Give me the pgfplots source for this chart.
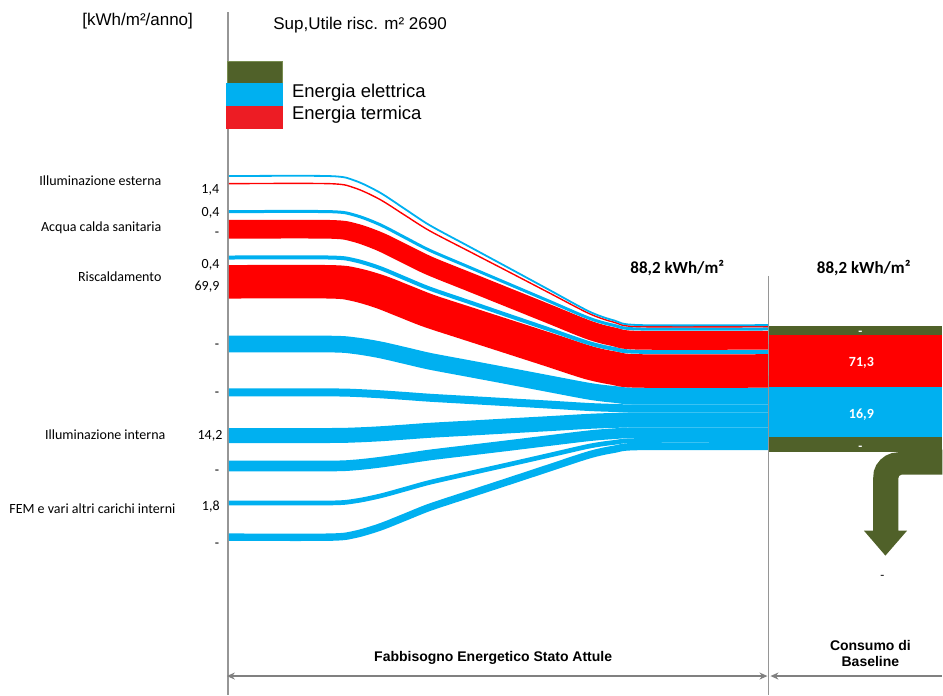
\documentclass[border=0pt]{standalone}
\usepackage{pgfplots}
\pgfplotsset{compat=1.18}
\usepackage{pgfplotstable}
\usepackage{fontspec}
\setmainfont{Liberation Sans}
\newfontfamily\calib{Carlito}
\usetikzlibrary{arrows.meta}

\definecolor{sblue}{RGB}{0,176,240}
\definecolor{sred}{RGB}{255,0,0}
\definecolor{lred}{RGB}{237,28,36}
\definecolor{sgreen}{RGB}{80,97,41}
\definecolor{lgreen}{RGB}{120,140,80}
\definecolor{lgray}{RGB}{150,150,150}
\definecolor{agray}{RGB}{128,128,128}

% centre line of each flow (y downwards, in px) at given x
\pgfplotstableread{
x b1 b2 b3 b4 b5 b6 b7 b8 b9 b10 b11 b12
229 176.2 183.8 211.8 229.5 257.7 282.0 344.3 392.7 435.8 466.3 503.3 537.5
330 176.2 183.8 211.8 229.5 257.7 282.0 344.3 392.7 435.8 466.3 503.3 537.5
355 180.7 188.1 215.3 232.8 260.5 284.7 345.9 393.2 435.3 465.3 501.4 534.8
380 192.6 199.5 224.7 241.7 268.1 291.8 350.0 394.5 434.1 462.6 496.4 527.5
405 209.0 215.3 237.6 253.9 278.5 301.6 355.7 396.2 432.4 459.0 489.6 517.6
430 225.4 231.0 250.5 266.1 288.8 311.4 361.5 398.0 430.6 455.3 482.7 507.6
470 247.0 251.8 267.6 282.2 302.5 324.4 369.0 400.3 428.4 450.5 473.6 494.4
510 268.6 272.5 284.6 298.3 316.2 337.3 376.5 402.6 426.1 445.7 464.6 481.3
550 290.3 293.3 301.6 314.4 329.8 350.2 384.1 404.9 423.9 440.8 455.5 468.1
590 311.9 314.0 318.6 330.5 343.5 363.2 391.6 407.3 421.6 436.0 446.4 455.0
615 320.8 322.6 325.7 337.2 349.2 368.5 394.7 408.2 420.7 434.0 442.7 449.5
640 325.3 326.9 329.2 340.5 352.0 371.2 396.3 408.7 420.2 433.0 440.8 446.8
768.5 325.3 326.9 329.2 340.5 352.0 371.2 396.3 408.7 420.2 433.0 440.8 446.8
}\flows

\begin{document}
\begin{tikzpicture}
\begin{axis}[width=943pt,height=695pt,scale only axis,
  xmin=0,xmax=943,ymin=0,ymax=695,y dir=reverse,hide axis,clip=false]

% full canvas
\path (0,0) -- (943,695);

% reference lines
\draw[lgray,line width=1.5pt] (228,12.5) -- (228,695);
\draw[lgray,line width=1.5pt] (769,276) -- (769,695);

% legend swatches
\addplot[fill=sgreen,draw=lgreen,line width=0.6pt] coordinates {(227,61)(282.5,61)(282.5,83.3)(227,83.3)} -- cycle;
\addplot[fill=sblue,draw=none] coordinates {(225.7,83.3)(282.7,83.3)(282.7,106)(225.7,106)} -- cycle;
\addplot[fill=lred,draw=none] coordinates {(225.7,106)(282.7,106)(282.7,128.7)(225.7,128.7)} -- cycle;

% flows
\pgfplotsset{flow/.style={smooth,line cap=butt,no markers}}
\addplot[flow,sblue,line width=7.4pt] table[x=x,y=b12]{\flows};
\addplot[flow,sblue,line width=4.7pt] table[x=x,y=b11]{\flows};
\addplot[flow,sblue,line width=10.7pt] table[x=x,y=b10]{\flows};
\addplot[flow,sblue,line width=15pt] table[x=x,y=b9]{\flows};
\addplot[flow,sblue,line width=8pt] table[x=x,y=b8]{\flows};
\addplot[flow,sblue,line width=16.7pt] table[x=x,y=b7]{\flows};
\addplot[flow,sred,line width=33.5pt] table[x=x,y=b6]{\flows};
\addplot[flow,sblue,line width=4pt] table[x=x,y=b5]{\flows};
\addplot[flow,sred,line width=18.7pt] table[x=x,y=b4]{\flows};
\addplot[flow,sblue,line width=3pt] table[x=x,y=b3]{\flows};
\addplot[flow,sred,line width=1.4pt] table[x=x,y=b2]{\flows};
\addplot[flow,sblue,line width=1.8pt] table[x=x,y=b1]{\flows};

% baseline consumption block
\addplot[fill=sgreen,draw=none] coordinates {(770,325.8)(943,325.8)(943,335.3)(770,335.3)} -- cycle;
\addplot[fill=sred,draw=none] coordinates {(770,335.3)(943,335.3)(943,387.6)(770,387.6)} -- cycle;
\addplot[fill=sblue,draw=none] coordinates {(770,387.6)(943,387.6)(943,437.7)(770,437.7)} -- cycle;
\addplot[fill=sgreen,draw=none] coordinates {(770,437.7)(943,437.7)(943,452.7)(770,452.7)} -- cycle;
% outgoing arrow
\addplot[fill=sgreen,draw=none] coordinates {(943,450)(899,450)(899,452.5)(892.4,453.4)(886.3,455.9)(881,460)(876.9,465.3)(874.4,471.4)(873.8,478)(873.8,531)(864.5,531)(886,556)(907.7,531)(899,531)(899,478.5)(899.8,476.2)(902,475)(943,475)} -- cycle;

% bottom dimension arrows
\draw[agray,line width=1.3pt,{Stealth[length=8pt,width=7pt]}-{Stealth[length=8pt,width=7pt]}] (227,676.5) -- (768,676.5);
\draw[agray,line width=1.3pt,{Stealth[length=8pt,width=7pt]}-] (771,676.5) -- (943,676.5);

% header texts
\node[anchor=base west,inner sep=0,font=\fontsize{17}{20}\selectfont] at (82.3,26) {[kWh/m²/anno]};
\node[anchor=base west,inner sep=0,font=\fontsize{17}{20}\selectfont] at (273.3,30) {Sup,Utile risc. m² 2690};
\node[anchor=base west,inner sep=0,font=\fontsize{18.5}{21}\selectfont] at (292,97.5) {Energia elettrica};
\node[anchor=base west,inner sep=0,font=\fontsize{18.5}{21}\selectfont] at (292,119.2) {Energia termica};

% left category labels
\begin{scope}[every node/.style={anchor=base east,inner sep=0,font=\calib\fontsize{14}{16}\selectfont}]
\node at (161.7,185.3) {Illuminazione esterna};
\node at (161.7,231.3) {Acqua calda sanitaria};
\node at (161.7,282) {Riscaldamento};
\node at (165.7,439.3) {Illuminazione interna};
\node at (175.7,514) {FEM e vari altri carichi interni};
\node at (219.5,193.3) {1,4};
\node at (219.7,216.7) {0,4};
\node at (219.5,236.8) {-};
\node at (219.7,268.3) {0,4};
\node at (219.7,291) {69,9};
\node at (219.5,349) {-};
\node at (219.5,396.7) {-};
\node at (222.7,439.3) {14,2};
\node at (219.5,475) {-};
\node at (220,511) {1,8};
\node at (219.5,548) {-};
\end{scope}

% totals
\node[anchor=base west,inner sep=0,font=\calib\bfseries\fontsize{17}{20}\selectfont] at (630.7,274) {88,2 kWh/m²};
\node[anchor=base west,inner sep=0,font=\calib\bfseries\fontsize{17}{20}\selectfont] at (817.3,274) {88,2 kWh/m²};
\node[anchor=base,inner sep=0,white,font=\calib\bfseries\fontsize{14}{16}\selectfont] at (862,366.7) {71,3};
\node[anchor=base,inner sep=0,white,font=\calib\bfseries\fontsize{14}{16}\selectfont] at (862,418.7) {16,9};
\node[anchor=base,inner sep=0,white,font=\calib\bfseries\fontsize{13}{16}\selectfont] at (861,335.5) {-};
\node[anchor=base,inner sep=0,white,font=\calib\bfseries\fontsize{13}{16}\selectfont] at (861,450.5) {-};
\node[anchor=base,inner sep=0,font=\calib\fontsize{13}{16}\selectfont] at (883,580) {-};

% bottom section labels
\node[anchor=base,inner sep=0,font=\bfseries\fontsize{14}{16}\selectfont] at (493.5,662) {Fabbisogno Energetico Stato Attule};
\node[anchor=base,inner sep=0,font=\bfseries\fontsize{14}{16}\selectfont] at (871,651) {Consumo di};
\node[anchor=base,inner sep=0,font=\bfseries\fontsize{14}{16}\selectfont] at (871,666.7) {Baseline};
\end{axis}
\end{tikzpicture}
\end{document}
